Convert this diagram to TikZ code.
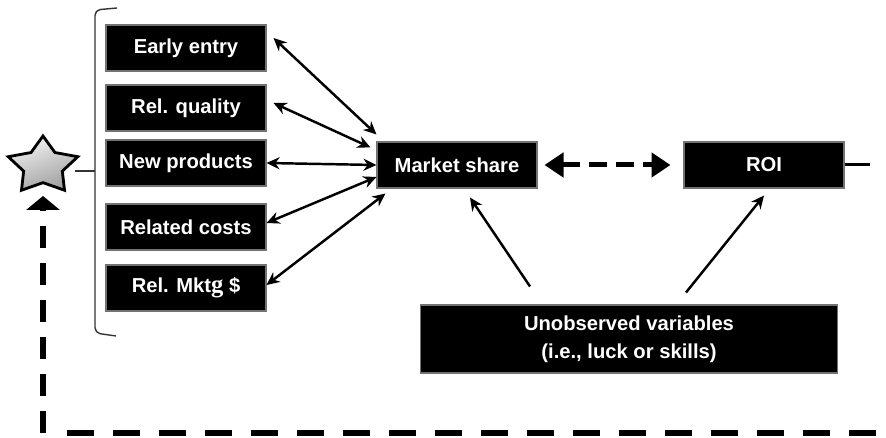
\documentclass[tikz,border=0pt]{standalone}
\usepackage{fontspec}
\setmainfont{Liberation Sans}
\newfontfamily\serifg{Liberation Serif}
\usetikzlibrary{arrows.meta,shapes.geometric}

\tikzset{
  box/.style={fill=black, draw=black!55, line width=0.6pt, text=white,
    font=\fontsize{11.5}{16}\selectfont\bfseries, align=center,
    minimum width=3.2cm, minimum height=0.92cm, inner sep=0pt},
  biarrow/.style={line width=1.4pt,
    {Stealth[length=0.26cm,width=0.24cm]}-{Stealth[length=0.26cm,width=0.24cm]}},
  onearrow/.style={line width=1.4pt, -{Stealth[length=0.26cm,width=0.24cm]}},
  bigdash/.style={line width=0.1cm, dash pattern=on 0.36cm off 0.18cm,
    {Triangle[length=0.38cm,width=0.48cm]}-{Triangle[length=0.38cm,width=0.48cm]}},
  fbline/.style={line width=0.12cm},
  bracket/.style={line width=0.8pt, black!80}
}

\begin{document}
\begin{tikzpicture}[x=0.02cm, y=-0.02cm]

                  \useasboundingbox (0,0) rectangle (886,438);

                  % the five drivers
                  \node[box] (early)   at (186,48)  {Early entry};
                  \node[box] (quality) at (186,108) {Rel. quality};
                  \node[box] (newprod) at (186,163) {New products};
                  \node[box] (costs)   at (186,227) {Related costs};
                  \node[box] (mktg)    at (186,288) {Rel. Mkt{\serifg\fontsize{14}{16}\selectfont g} \$};

                  \node[box] (share) at (457,165) {Market share};
                  \node[box] (roi)   at (764,165) {ROI};
                  \node[box, minimum width=8.36cm, minimum height=1.36cm] (unobs) at (629,339)
                        {Unobserved variables\\(i.e., luck or skills)};

                  \begin{scope}[shift={(43,166)}, xscale=1.22]
                        \node[star, star points=5, star point ratio=1.8, minimum size=1.2cm, inner sep=0pt,
                              draw=black, line width=1.6pt, top color=gray!10, bottom color=gray!75,
                              shading angle=20, transform shape] (star) at (0,0) {};
                  \end{scope}

                  % bracket
                  \draw[bracket, rounded corners=3pt] (117,8) -- (95,10) -- (95,333) -- (116,336);
                  \draw[bracket] (75,171) -- (95,171);

                  % links to market share
                  \draw[biarrow] ([xshift=0.14cm, yshift=0.2cm]early.east) -- ([yshift=0.14cm]share.north west);
                  \draw[biarrow] ([xshift=0.14cm, yshift=0.1cm]quality.east) -- ([xshift=-0.12cm, yshift=-0.12cm]share.north west);
                  \draw[biarrow] (newprod.east) -- (share.west);
                  \draw[biarrow] ([yshift=0.08cm]costs.east) -- ([yshift=-0.24cm]share.west);
                  \draw[biarrow] ([yshift=0.06cm]mktg.east) -- ([xshift=0.18cm, yshift=-0.1cm]share.south west);

                  \draw[bigdash, shorten <=0.14cm, shorten >=0.26cm] (share.east) -- (roi.west);
                  \coordinate (roiend) at (870,165);
                  \draw[line width=0.06cm] (roi.east) -- (roiend);

                  \draw[onearrow] ([xshift=-1.98cm, yshift=0.36cm]unobs.north) -- ([xshift=0.26cm, yshift=-0.18cm]share.south);
                  \draw[onearrow] ([xshift=1.14cm, yshift=0.24cm]unobs.north) -- ([yshift=-0.14cm]roi.south);

                  % feedback to the star
                  \coordinate (corner) at (43,433);
                  \coordinate (fbend)  at (886,433);
                  \draw[fbline, dash pattern=on 0.54cm off 0.38cm] ([xshift=0.48cm]corner) -- (fbend);
                  \draw[fbline, dash pattern=on 0.44cm off 0.3cm, -{Triangle[length=0.28cm,width=0.66cm]}]
                        (corner) -- ([yshift=-0.6cm]star.center);

\end{tikzpicture}
\end{document}
